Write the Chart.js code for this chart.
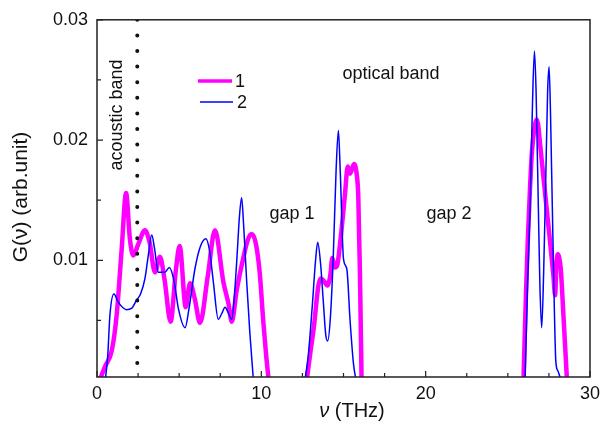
<!DOCTYPE html>
<html>
<head>
<meta charset="utf-8">
<script src="https://cdn.jsdelivr.net/npm/chart.js@4.4.0/dist/chart.umd.min.js"></script>
<style>
    html, body { margin: 0; padding: 0; background: #ffffff; }
    #dos { display: block; }
</style>
</head>
<body>
<canvas id="dos" width="608" height="436"></canvas>
<script>
// Data (frequency in THz, G(nu) in arb. units, null = gap)
const nu1 = [0.15, 0.5, 0.9, 1.2, 1.5, 1.77, 2.0, 2.21, 2.5, 2.92, 3.2, 3.53, 3.83, 4.1, 4.48, 4.8, 5.03, 5.4, 5.66, 5.95, 6.27, 6.75, 7.18, 7.69, 8.0, 8.2, 8.5, 8.9, 9.2, 9.41, 9.65, 9.9, 10.12, 10.3, 10.45,
    11.5,
    12.76, 13.0, 13.2, 13.47, 13.62, 13.8, 14.02, 14.2, 14.32, 14.48, 14.62, 14.8, 14.95, 15.09, 15.26, 15.4, 15.64, 15.8, 15.9, 16.0, 16.1,
    21.0,
    25.95, 26.1, 26.21, 26.35, 26.46, 26.6, 26.76, 26.85, 26.96, 27.37, 27.77, 27.88, 27.95, 28.04, 28.13, 28.22, 28.4, 28.6];
const g1 = [0, 0.0012, 0.0025, 0.0055, 0.0109, 0.0156, 0.0118, 0.0104, 0.0113, 0.0125, 0.0115, 0.009, 0.0103, 0.0085, 0.0049, 0.0092, 0.0112, 0.0061, 0.0081, 0.0068, 0.0048, 0.0088, 0.0125, 0.0082, 0.0064, 0.0049, 0.0075, 0.0102, 0.0118, 0.0122, 0.0115, 0.009, 0.0049, 0.002, 0,
    null,
    0, 0.0025, 0.0045, 0.0079, 0.0085, 0.0083, 0.0079, 0.0088, 0.0102, 0.0094, 0.0096, 0.0115, 0.0135, 0.0155, 0.0178, 0.0172, 0.018, 0.0172, 0.0153, 0.009, 0,
    null,
    0, 0.007, 0.0115, 0.016, 0.0189, 0.0208, 0.0217, 0.0212, 0.0197, 0.0142, 0.0088, 0.0071, 0.0095, 0.0105, 0.0102, 0.0093, 0.005, 0];

const nu2 = [0.5, 0.65, 0.79, 1.03, 1.3, 1.8, 2.1, 2.41, 2.65, 2.92, 3.12, 3.33, 3.5, 3.73, 3.94, 4.13, 4.4, 4.7, 4.95, 5.36, 5.6, 5.96, 6.3, 6.63, 6.85, 7.08, 7.38, 7.6, 7.79, 8.0, 8.2, 8.4, 8.55, 8.66, 8.8, 8.92, 9.11, 9.3, 9.52,
    11.0,
    12.65, 12.85, 13.1, 13.3, 13.43, 13.6, 13.77, 13.92, 14.04, 14.2, 14.38, 14.55, 14.69, 14.8, 15.0, 15.2, 15.4, 15.6, 15.76,
    21.0,
    26.05, 26.2, 26.35, 26.5, 26.62, 26.72, 26.86, 26.95, 27.06, 27.18, 27.31, 27.42, 27.51, 27.6, 27.71, 27.83, 27.92, 28.05, 28.18, 28.3];
const g2 = [0, 0.002, 0.0055, 0.0072, 0.0065, 0.0059, 0.006, 0.0067, 0.0072, 0.0085, 0.0104, 0.0121, 0.011, 0.009, 0.009, 0.009, 0.0094, 0.0082, 0.006, 0.0044, 0.006, 0.0093, 0.0112, 0.0118, 0.0108, 0.0082, 0.0051, 0.0056, 0.0061, 0.0056, 0.0051, 0.0078, 0.011, 0.0135, 0.0152, 0.013, 0.0082, 0.004, 0,
    null,
    0, 0.002, 0.0062, 0.01, 0.0115, 0.0098, 0.0066, 0.0038, 0.0033, 0.0052, 0.0104, 0.0175, 0.0208, 0.0175, 0.0101, 0.0093, 0.005, 0.0015, 0,
    null,
    0, 0.008, 0.0142, 0.023, 0.0274, 0.024, 0.0142, 0.008, 0.0044, 0.009, 0.0169, 0.024, 0.0261, 0.022, 0.0142, 0.006, 0.0016, 0.0008, 0.0003, 0];

// Acoustic / optical boundary
const nuBoundary = [2.45, 2.45];
const gBoundary = [0.03, 0.0003];

// Ticks
const xTickLabels = [0, 10, 20, 30];
const xMinorTicks = [2.5, 5, 7.5, 12.5, 15, 17.5, 22.5, 25, 27.5];
const yTickLabels = [0.01, 0.02, 0.03];
const yMinorTicks = [0.005, 0.015, 0.025];

const toPoints = (xs, ys) => xs.map((x, i) => ({ x: x, y: ys[i] }));

const font = "'Liberation Sans', Arial, sans-serif";

// Frame, inward ticks, legend and labels
const decorations = {
    id: "decorations",
    afterDraw(chart) {
        const { ctx, chartArea: a } = chart;
        const sx = chart.scales.x;
        const sy = chart.scales.y;
        ctx.save();

        // Frame
        ctx.strokeStyle = "#222222";
        ctx.lineWidth = 1.5;
        ctx.strokeRect(a.left, a.top, a.right - a.left, a.bottom - a.top);

        // Ticks
        ctx.lineWidth = 1.2;
        ctx.beginPath();
        xTickLabels.forEach((v) => { const p = sx.getPixelForValue(v); ctx.moveTo(p, a.bottom); ctx.lineTo(p, a.bottom - 6); });
        xMinorTicks.forEach((v) => { const p = sx.getPixelForValue(v); ctx.moveTo(p, a.bottom); ctx.lineTo(p, a.bottom - 4); });
        yTickLabels.forEach((v) => { const p = sy.getPixelForValue(v); ctx.moveTo(a.left, p); ctx.lineTo(a.left + 6, p); });
        yMinorTicks.forEach((v) => { const p = sy.getPixelForValue(v); ctx.moveTo(a.left, p); ctx.lineTo(a.left + 4, p); });
        ctx.stroke();

        // Legend
        ctx.lineCap = "butt";
        ctx.strokeStyle = "#ff00ff";
        ctx.lineWidth = 3.5;
        ctx.beginPath(); ctx.moveTo(198, 81); ctx.lineTo(232, 81); ctx.stroke();
        ctx.strokeStyle = "#0000ff";
        ctx.lineWidth = 1.5;
        ctx.beginPath(); ctx.moveTo(200, 102); ctx.lineTo(233, 102); ctx.stroke();

        ctx.fillStyle = "#111111";
        ctx.font = "18px " + font;
        ctx.textBaseline = "middle";
        ctx.textAlign = "left";
        ctx.fillText("1", 235, 82);
        ctx.fillText("2", 237, 103);

        // Annotations
        ctx.textAlign = "center";
        ctx.fillText("optical band", 391, 74);
        ctx.fillText("gap 1", 292, 214);
        ctx.fillText("gap 2", 449, 214);

        ctx.save();
        ctx.translate(117, 115);
        ctx.rotate(-Math.PI / 2);
        ctx.fillText("acoustic band", 0, 0);
        ctx.restore();

        // Axis titles
        ctx.font = "21px " + font;
        ctx.save();
        ctx.translate(21, 197);
        ctx.rotate(-Math.PI / 2);
        ctx.fillText("G(\u03bd) (arb.unit)", 0, 0);
        ctx.restore();

        ctx.textAlign = "left";
        ctx.font = "italic 20px " + font;
        const nuW = ctx.measureText("\u03bd").width;
        ctx.font = "20px " + font;
        const restW = ctx.measureText(" (THz)").width;
        const x0 = 352 - (nuW + restW) / 2;
        ctx.font = "italic 20px " + font;
        ctx.fillText("\u03bd", x0, 411);
        ctx.font = "20px " + font;
        ctx.fillText(" (THz)", x0 + nuW, 411);

        ctx.restore();
    },
};

// Chart
const ctx = document.getElementById("dos").getContext("2d");

new Chart(ctx, {
    type: "line",
    data: {
        datasets: [
            {
                label: "boundary",
                data: toPoints(nuBoundary, gBoundary),
                borderColor: "#111111",
                borderWidth: 4,
                borderDash: [0, 15.6],
                borderCapStyle: "round",
                pointRadius: 0,
                order: -1,
                clip: 0,
            },
            {
                label: "1",
                data: toPoints(nu1, g1),
                borderColor: "#ff00ff",
                borderWidth: 4.5,
                pointRadius: 0,
                cubicInterpolationMode: "monotone",
                spanGaps: false,
                order: 2,
                clip: 0,
            },
            {
                label: "2",
                data: toPoints(nu2, g2),
                borderColor: "#0000ff",
                borderWidth: 1.5,
                pointRadius: 0,
                cubicInterpolationMode: "monotone",
                spanGaps: false,
                order: 1,
                clip: 0,
            },
        ],
    },
    options: {
        responsive: false,
        animation: false,
        layout: {
            padding: { top: 14, right: 18, left: 0, bottom: 0 },
        },
        scales: {
            x: {
                type: "linear",
                min: 0,
                max: 30,
                afterBuildTicks: (s) => { s.ticks = xTickLabels.map((v) => ({ value: v })); },
                afterFit: (s) => { s.height = 59; },
                grid: { display: false, drawTicks: false },
                border: { display: false },
                ticks: {
                    color: "#111111",
                    padding: 6,
                    maxRotation: 0,
                    font: { family: font, size: 18 },
                    callback: (v) => String(v),
                },
            },
            y: {
                min: 0.0003,
                max: 0.03,
                afterBuildTicks: (s) => { s.ticks = yTickLabels.map((v) => ({ value: v })); },
                afterFit: (s) => { s.width = 97; },
                grid: { display: false, drawTicks: false },
                border: { display: false },
                ticks: {
                    color: "#111111",
                    padding: 9,
                    font: { family: font, size: 18 },
                    callback: (v) => v.toFixed(2),
                },
            },
        },
        plugins: {
            legend: { display: false },
            tooltip: { enabled: false },
        },
    },
    plugins: [decorations],
});
</script>
</body>
</html>
